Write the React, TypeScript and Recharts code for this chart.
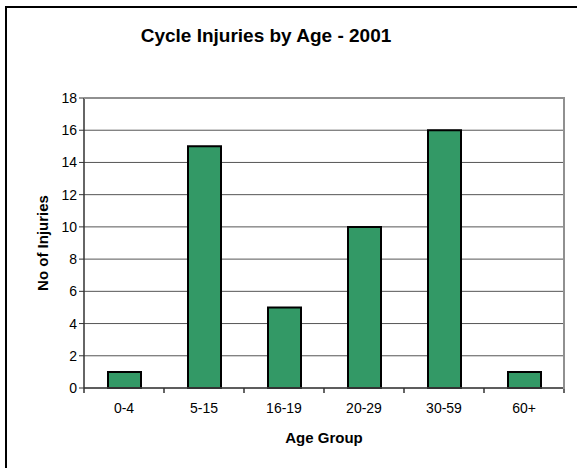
import { Bar, BarChart, CartesianGrid, XAxis, YAxis } from 'recharts';

const ageGroups = ['0-4', '5-15', '16-19', '20-29', '30-59', '60+'];
const injuries = [1, 15, 5, 10, 16, 1];
const yTicks = [0, 2, 4, 6, 8, 10, 12, 14, 16, 18];

const data = ageGroups.map((g, i) => ({ group: g, injuries: injuries[i] }));

const FONT = 'Arial, "Liberation Sans", sans-serif';
const BAND = 80; // width of one category slot in px

function CategoryTick(props: any) {
  const { x, y, payload } = props;
  const last = payload.value === ageGroups[ageGroups.length - 1];
  return (
    <g>
      <line x1={x - BAND / 2} y1={y - 8} x2={x - BAND / 2} y2={y - 3} stroke="#333" strokeWidth={1.5} />
      {last && (
        <line x1={x + BAND / 2} y1={y - 8} x2={x + BAND / 2} y2={y - 3} stroke="#333" strokeWidth={1.5} />
      )}
      <text x={x} y={y + 17} textAnchor="middle" fontSize={14} fill="#000" fontFamily={FONT}>
        {payload.value}
      </text>
    </g>
  );
}

export default function App() {
  return (
    <div style={{ position: 'fixed', left: 0, top: 0, width: 579, height: 468, background: '#fff', fontFamily: FONT, overflow: 'hidden' }}>
      <style>{'html, body { margin: 0; overflow: hidden; }'}</style>
      <div
        style={{
          position: 'absolute',
          left: 5,
          top: 6,
          width: 570,
          height: 460,
          borderLeft: '2px solid #000',
          borderTop: '2px solid #000',
        }}
      />
      <div
        style={{
          position: 'absolute',
          left: 0,
          top: 25,
          width: 532,
          textAlign: 'center',
          fontSize: 19,
          fontWeight: 'bold',
          color: '#000',
        }}
      >
        Cycle Injuries by Age - 2001
      </div>
      <div style={{ position: 'absolute', left: 0, top: 0 }}>
        <BarChart
          width={579}
          height={468}
          data={data}
          margin={{ top: 98, right: 15, left: 54, bottom: 50 }}
          barSize={33}
        >
          <CartesianGrid vertical={false} stroke="#555" strokeWidth={1} />
          <XAxis
            dataKey="group"
            height={30}
            tickLine={false}
            axisLine={{ stroke: '#444', strokeWidth: 1.5 }}
            tick={<CategoryTick />}
            interval={0}
            label={{
              value: 'Age Group',
              position: 'insideBottom',
              offset: -25,
              fontSize: 15,
              fontWeight: 'bold',
              fill: '#000',
              fontFamily: FONT,
            }}
          />
          <YAxis
            width={30}
            domain={[0, 18]}
            ticks={yTicks}
            interval={0}
            tickSize={5}
            tickLine={{ stroke: '#333', strokeWidth: 1 }}
            axisLine={{ stroke: '#333', strokeWidth: 1.5 }}
            tick={{ fontSize: 14, fill: '#000', fontFamily: FONT }}
            label={{
              value: 'No of Injuries',
              angle: -90,
              position: 'insideLeft',
              offset: -11,
              style: { textAnchor: 'middle' },
              fontSize: 15,
              fontWeight: 'bold',
              fill: '#000',
              fontFamily: FONT,
            }}
          />
          <Bar
            dataKey="injuries"
            fill="#339966"
            stroke="#000"
            strokeWidth={2}
            isAnimationActive={false}
          />
        </BarChart>
      </div>
      {/* grey top edge of the plot frame */}
      <div
        style={{
          position: 'absolute',
          left: 84,
          top: 97,
          width: 481,
          height: 2,
          background: '#909090',
          pointerEvents: 'none',
        }}
      />
      {/* grey right edge of the plot frame */}
      <div
        style={{
          position: 'absolute',
          left: 563,
          top: 97,
          width: 2,
          height: 292,
          background: '#909090',
          pointerEvents: 'none',
        }}
      />
    </div>
  );
}
